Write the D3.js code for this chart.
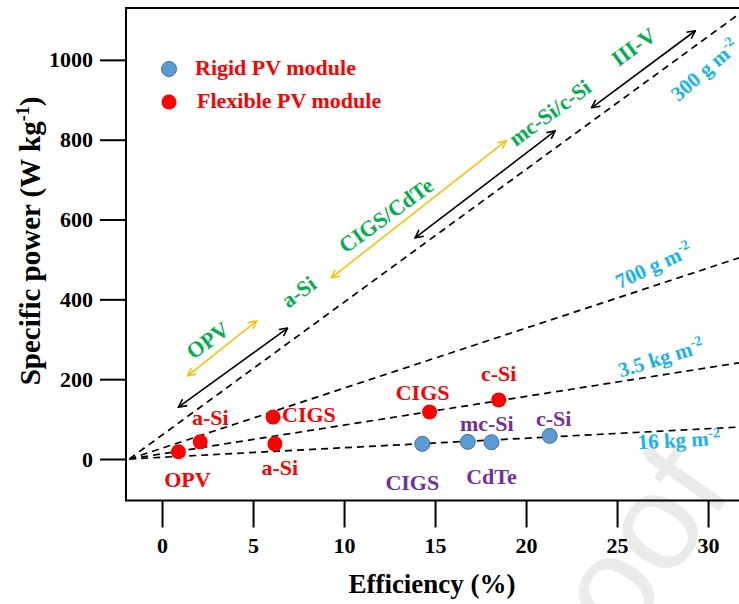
<!DOCTYPE html>
<html>
<head>
<meta charset="utf-8">
<script src="https://cdn.jsdelivr.net/npm/d3@7"></script>
<style>
  body { margin: 0; background: #fff; }
  text { font-family: "Liberation Serif", "Times New Roman", serif; font-weight: bold; }
</style>
</head>
<body>
<svg id="chart" width="739" height="604"></svg>
<script>
// data
const flexNames = ['OPV', 'a-Si', 'CIGS', 'a-Si', 'CIGS', 'c-Si'];
const flexEff = [0.9, 2.1, 6.1, 6.2, 14.7, 18.5];
const flexPower = [18, 43, 105, 38, 118, 148];

const rigidNames = ['CIGS', 'mc-Si', 'CdTe', 'c-Si'];
const rigidEff = [14.3, 16.8, 18.1, 21.3];
const rigidPower = [38, 43, 42, 58];

const densityLabels = ['300 g m', '700 g m', '3.5 kg m', '16 kg m'];
const lineOriginEff = -1.8;
const lineEndEff = 31.7;
const lineEndPower = [1115, 504, 241, 80];

// range arrows along the 300 g line: [eff0, pow0, eff1, pow1]
const rangeArrows = [
  [1.4, 208, 5.2, 346, 'orange'],
  [0.9, 130, 6.9, 328, 'black'],
  [9.3, 454, 18.9, 797, 'orange'],
  [13.9, 554, 21.6, 822, 'black'],
  [23.6, 880, 29.3, 1073, 'black']
];
const techNames = ['OPV', 'a-Si', 'CIGS/CdTe', 'mc-Si/c-Si', 'III-V'];
const techEff = [2.5, 7.5, 12.3, 21.3, 25.9];
const techPower = [298, 419, 611, 868, 1033];

const xTicks = [0, 5, 10, 15, 20, 25, 30];
const yTicks = [0, 200, 400, 600, 800, 1000];

const RED = '#ff0000', PURPLE = '#7030a0', GREEN = '#00b050',
      CYAN = '#16b4ec', ORANGE = '#ffc000', BLUE = '#5b9bd5';

const svg = d3.select('#chart');

const x = d3.scaleLinear().domain([-1.98, 31.7]).range([126, 739]);
const y = d3.scaleLinear().domain([-104, 1130]).range([500.5, 8]);

// watermark
svg.append('text')
  .attr('transform', 'translate(545,760) rotate(-55)')
  .attr('font-size', 138)
  .style('font-family', '"Liberation Sans", Arial, sans-serif')
  .style('font-weight', 'normal')
  .attr('fill', '#ebebeb')
  .text('Proof');

// frame
svg.append('path')
  .attr('d', `M739,${y.range()[1]}H${x.range()[0]}V${y.range()[0]}H739`)
  .attr('fill', 'none').attr('stroke', '#000').attr('stroke-width', 2);

// axes
const xAxis = svg.append('g')
  .attr('transform', `translate(0,${y.range()[0]})`)
  .call(d3.axisBottom(x).tickValues(xTicks).tickSize(27).tickPadding(10));
const yAxis = svg.append('g')
  .attr('transform', `translate(${x.range()[0]},0)`)
  .call(d3.axisLeft(y).tickValues(yTicks).tickFormat(d3.format('d')).tickSize(26).tickPadding(7));
[xAxis, yAxis].forEach(a => {
  a.select('.domain').remove();
  a.selectAll('line').attr('stroke', '#000').attr('stroke-width', 2);
  a.selectAll('text').attr('font-size', 22).attr('fill', '#000')
    .style('font-family', '"Liberation Serif", serif').style('font-weight', 'bold');
});

svg.append('text')
  .attr('x', 432).attr('y', 593)
  .attr('text-anchor', 'middle').attr('font-size', 27)
  .text('Efficiency (%)');

const yl = svg.append('text')
  .attr('transform', 'translate(40,241) rotate(-90)')
  .attr('text-anchor', 'middle').attr('font-size', 29);
yl.append('tspan').text('Specific power (W kg');
yl.append('tspan').attr('font-size', 18).attr('dy', -11).text('-1');
yl.append('tspan').attr('dy', 11).text(')');

// arrow markers
const defs = svg.append('defs');
[['black', '#000'], ['orange', ORANGE]].forEach(([id, col]) => {
  defs.append('marker')
    .attr('id', 'arr-' + id)
    .attr('viewBox', '0 0 10 10').attr('refX', 9).attr('refY', 5)
    .attr('markerWidth', 10).attr('markerHeight', 10)
    .attr('markerUnits', 'userSpaceOnUse')
    .attr('orient', 'auto-start-reverse')
    .append('path').attr('d', 'M1,1L9,5L1,9')
    .attr('fill', 'none').attr('stroke', col).attr('stroke-width', 1.6);
});

// areal density lines
const lineG = svg.append('g');
lineEndPower.forEach(p => {
  lineG.append('line')
    .attr('x1', x(lineOriginEff)).attr('y1', y(0))
    .attr('x2', x(lineEndEff)).attr('y2', y(p))
    .attr('stroke', '#000').attr('stroke-width', 1.7)
    .attr('stroke-dasharray', '7,5');
});

// range arrows
rangeArrows.forEach(a => {
  svg.append('line')
    .attr('x1', x(a[0])).attr('y1', y(a[1]))
    .attr('x2', x(a[2])).attr('y2', y(a[3]))
    .attr('stroke', a[4] === 'black' ? '#000' : ORANGE)
    .attr('stroke-width', 1.6)
    .attr('marker-start', `url(#arr-${a[4]})`)
    .attr('marker-end', `url(#arr-${a[4]})`);
});

const steep = Math.atan2(y(lineEndPower[0]) - y(0), x(lineEndEff) - x(lineOriginEff)) * 180 / Math.PI;

techNames.forEach((t, i) => {
  svg.append('text')
    .attr('transform', `translate(${x(techEff[i])},${y(techPower[i])}) rotate(${steep})`)
    .attr('text-anchor', 'middle').attr('dy', '0.35em')
    .attr('font-size', 22).attr('fill', GREEN)
    .text(t);
});

// density labels
const densityPos = [[29.8, 975, -41], [27.0, 485, -25], [27.4, 254, -17], [28.4, 48, -3]];
densityLabels.forEach((t, i) => {
  const [e, p, r] = densityPos[i];
  const tx = svg.append('text')
    .attr('transform', `translate(${x(e)},${y(p)}) rotate(${r})`)
    .attr('text-anchor', 'middle').attr('dy', '0.35em')
    .attr('font-size', 21).attr('fill', CYAN);
  tx.append('tspan').text(t);
  tx.append('tspan').attr('font-size', 14).attr('dy', -8).text('-2');
});

// points
svg.append('g').selectAll('circle')
  .data(rigidEff)
  .join('circle')
  .attr('cx', (d, i) => x(d)).attr('cy', (d, i) => y(rigidPower[i]))
  .attr('r', 7.5).attr('fill', BLUE).attr('stroke', '#41719c').attr('stroke-width', 1);

svg.append('g').selectAll('circle')
  .data(flexEff)
  .join('circle')
  .attr('cx', (d, i) => x(d)).attr('cy', (d, i) => y(flexPower[i]))
  .attr('r', 7.5).attr('fill', RED);

// point labels (pixel offsets from the point)
const flexOffsets = [[9, 27], [10, -25], [9, -3, 'start'], [5, 23], [-7, -20], [0, -27]];
flexNames.forEach((t, i) => {
  const o = flexOffsets[i];
  svg.append('text')
    .attr('x', x(flexEff[i]) + o[0]).attr('y', y(flexPower[i]) + o[1])
    .attr('dy', '0.35em').attr('text-anchor', o[2] || 'middle')
    .attr('font-size', 22).attr('fill', RED).text(t);
});
const rigidOffsets = [[-10, 38], [19, -19], [0, 34], [4, -18]];
rigidNames.forEach((t, i) => {
  const o = rigidOffsets[i];
  svg.append('text')
    .attr('x', x(rigidEff[i]) + o[0]).attr('y', y(rigidPower[i]) + o[1])
    .attr('dy', '0.35em').attr('text-anchor', 'middle')
    .attr('font-size', 22).attr('fill', PURPLE).text(t);
});

// legend
const legend = [['Rigid PV module', BLUE, '#41719c'], ['Flexible PV module', RED, 'none']];
legend.forEach((l, i) => {
  const ly = 69 + i * 33;
  svg.append('circle').attr('cx', 169).attr('cy', ly).attr('r', 7.5)
    .attr('fill', l[1]).attr('stroke', l[2]);
  svg.append('text').attr('x', 195 + i * 2).attr('y', ly - 2).attr('dy', '0.35em')
    .attr('font-size', 22).attr('fill', RED).text(l[0]);
});
</script>
</body>
</html>
